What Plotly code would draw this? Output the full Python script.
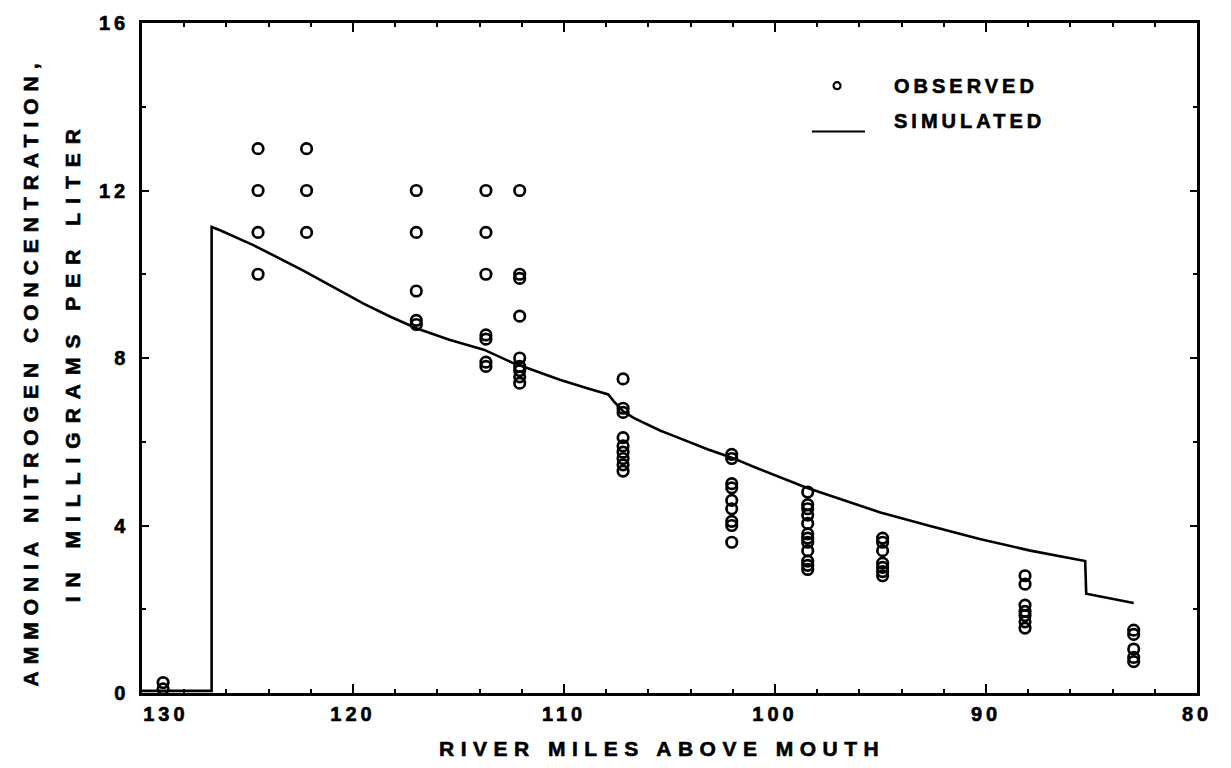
import plotly.graph_objects as go

# ---- data ----
obs_miles = ([129.0] * 2 + [124.5] * 4 + [122.2] * 3 + [117.0] * 5 + [113.7] * 7 +
             [112.1] * 9 + [107.2] * 9 + [102.05] * 9 + [98.45] * 12 + [94.9] * 7 +
             [88.15] * 7 + [83.0] * 5)
obs_values = [0.25, 0.1,
              13, 12, 11, 10,
              13, 12, 11,
              12, 11, 9.6, 8.9, 8.8,
              12, 11, 10, 8.55, 8.45, 7.9, 7.8,
              12, 10, 9.9, 9.0, 8.0, 7.8, 7.7, 7.55, 7.4,
              7.5, 6.8, 6.7, 6.1, 5.9, 5.75, 5.6, 5.45, 5.3,
              5.7, 5.6, 5.0, 4.9, 4.6, 4.4, 4.1, 4.0, 3.6,
              4.8, 4.5, 4.4, 4.25, 4.05, 3.8, 3.7, 3.6, 3.4, 3.15, 3.05, 2.95,
              3.7, 3.6, 3.4, 3.1, 3.0, 2.9, 2.8,
              2.8, 2.6, 2.1, 1.95, 1.85, 1.7, 1.55,
              1.5, 1.4, 1.05, 0.85, 0.75]

sim_miles = [130, 126.7, 126.7, 126.3, 124.7, 123.6, 122.4, 121.1, 119.5, 118.25,
             117.0, 115.4, 113.8, 112.5, 110.2, 108.9, 107.9, 107.65, 107.2, 106.7,
             105.45, 104.8, 103.2, 102.05, 100.9, 98.5, 96.9, 95.0, 92.65, 90.3,
             87.9, 85.3, 85.25, 83.0]
sim_values = [0.05, 0.05, 11.13, 11.05, 10.69, 10.41, 10.10, 9.74, 9.30, 8.99,
              8.71, 8.43, 8.20, 7.90, 7.48, 7.28, 7.13, 6.97, 6.73, 6.57,
              6.27, 6.14, 5.82, 5.62, 5.38, 4.90, 4.63, 4.31, 3.99, 3.68,
              3.40, 3.15, 2.37, 2.15]

x_tick_vals = [130, 120, 110, 100, 90, 80]
x_tick_labels = ["130", "120", "110", "100", "90", "80"]
y_tick_vals = [0, 4, 8, 12, 16]
y_tick_labels = ["0", "4", "8", "12", "16"]

x_title = "RIVER MILES ABOVE MOUTH"
y_title_1 = "AMMONIA NITROGEN CONCENTRATION,"
y_title_2 = "IN MILLIGRAMS PER LITER"
legend_obs = "OBSERVED"
legend_sim = "SIMULATED"

FONT = "Liberation Sans, Arial, sans-serif"


def spaced(s, px=4):
    return (f'<span style="font-weight:bold;letter-spacing:{px}px;'
            f'stroke:black;stroke-width:0.6px">{s}</span>')


# first x label sits to the right of its tick (clear of the y-axis "0")
x_tick_text = [spaced(("\u00a0" * 5 if i == 0 else "") + t, 4)
               for i, t in enumerate(x_tick_labels)]

fig = go.Figure()
fig.add_trace(go.Scatter(
    x=sim_miles, y=sim_values, mode="lines", name=legend_sim,
    line=dict(color="black", width=2.6), showlegend=False))
fig.add_trace(go.Scatter(
    x=obs_miles, y=obs_values, mode="markers", name=legend_obs,
    marker=dict(symbol="circle-open", size=10.5, color="black",
                line=dict(width=2.7, color="black")),
    showlegend=False))

axis_common = dict(
    showgrid=False, zeroline=False, showline=True, linecolor="black",
    linewidth=2.5, mirror="ticks", ticks="inside", tickcolor="black",
    tickwidth=2, tickfont=dict(family=FONT, size=20, color="black", weight="bold"),
)

fig.update_xaxes(
    range=[130, 80], tickvals=x_tick_vals,
    ticktext=x_tick_text, ticklen=9,
    minor=dict(dtick=2, ticks="inside", ticklen=4, tickwidth=2, tickcolor="black"),
    ticklabelstandoff=1,
    **axis_common)
fig.update_yaxes(
    range=[0, 16], tickvals=y_tick_vals,
    ticktext=[spaced(t, 4) for t in y_tick_labels], ticklen=7,
    minor=dict(dtick=2, ticks="inside", ticklen=4, tickwidth=2, tickcolor="black"),
    ticklabelstandoff=6,
    **axis_common)

title_font = dict(family=FONT, size=21, color="black", weight="bold")
leg_font = dict(family=FONT, size=20, color="black", weight="bold")
fig.add_annotation(text=spaced(x_title, 6.5), xref="paper", yref="paper",
                   x=0.493, y=0, yshift=-55, xanchor="center", yanchor="middle",
                   showarrow=False, font=title_font)
fig.add_annotation(text=spaced(y_title_1, 7), xref="paper", yref="paper",
                   x=0, xshift=-112, y=0.48, textangle=-90, xanchor="center",
                   yanchor="middle", showarrow=False, font=title_font)
fig.add_annotation(text=spaced(y_title_2, 9), xref="paper", yref="paper",
                   x=0, xshift=-70, y=0.495, textangle=-90, xanchor="center",
                   yanchor="middle", showarrow=False, font=title_font)

# legend
fig.add_shape(type="circle", xref="paper", yref="paper",
              xsizemode="pixel", ysizemode="pixel",
              xanchor=0.6588, yanchor=0.9064, x0=-3.5, x1=3.5, y0=-3.5, y1=3.5,
              line=dict(color="black", width=2.2))
fig.add_shape(type="line", xref="paper", yref="paper",
              x0=0.635, x1=0.6853, y0=0.838, y1=0.838,
              line=dict(color="black", width=2))
fig.add_annotation(text=spaced(legend_obs, 4), xref="paper", yref="paper",
                   x=0.7109, y=0.9064, xanchor="left", yanchor="middle",
                   showarrow=False, font=leg_font)
fig.add_annotation(text=spaced(legend_sim, 4), xref="paper", yref="paper",
                   x=0.7109, y=0.853, xanchor="left", yanchor="middle",
                   showarrow=False, font=leg_font)

fig.update_layout(
    width=1231, height=768,
    margin=dict(l=142, r=34, t=20, b=75),
    paper_bgcolor="white", plot_bgcolor="white",
    font=dict(family=FONT, color="black"),
    showlegend=False,
)

fig.write_html("out.html", config={"displayModeBar": False},
               post_script="document.body.style.margin='0';")
